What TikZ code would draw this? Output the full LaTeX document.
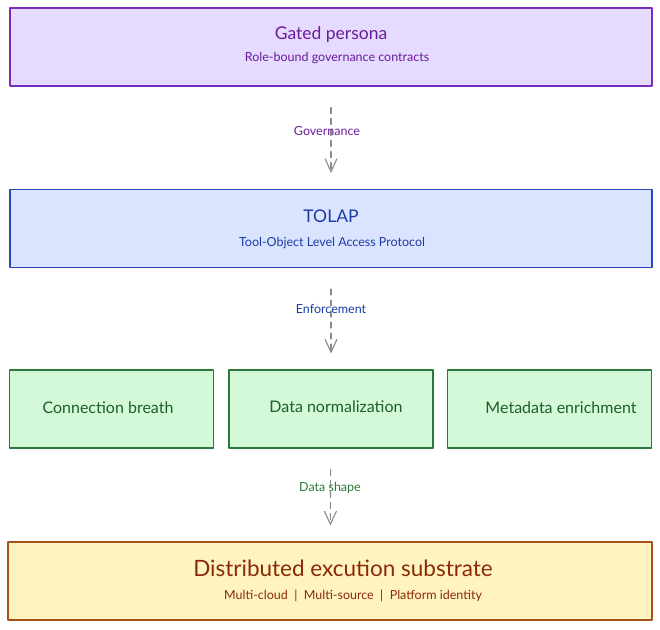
\documentclass[tikz,border=0pt]{standalone}
\usepackage{fontspec}
\setmainfont{Lato}
\usepackage{tikz}
\usetikzlibrary{positioning,arrows.meta}

\begin{document}
\begin{tikzpicture}[
		x=1pt, y=-1pt,
		line cap=round,
		line join=round,
		every path/.style={line width=1.1pt}
		]
		% colours
		\definecolor{gpFill}{HTML}{E5DBFF}
		\definecolor{gpLine}{HTML}{7B2CBF}
		\definecolor{gpText}{HTML}{6A1B9A}
		\definecolor{tlFill}{HTML}{DBE4FF}
		\definecolor{tlLine}{HTML}{2847B8}
		\definecolor{tlText}{HTML}{1C3AA6}
		\definecolor{dsFill}{HTML}{D3F9D8}
		\definecolor{dsLine}{HTML}{2B7A3B}
		\definecolor{dsText}{HTML}{1E5E2A}
		\definecolor{exFill}{HTML}{FFF3BF}
		\definecolor{exLine}{HTML}{A8501A}
		\definecolor{exText}{HTML}{8B2A08}
		\definecolor{flowGray}{HTML}{8A8A8A}

		% styles
		\tikzset{
			layer/.style={rectangle, draw, inner sep=0pt,
				minimum width=642pt, minimum height=78pt},
			part/.style={rectangle, draw=dsLine, fill=dsFill, text=dsText, inner sep=0pt,
				minimum width=204pt, minimum height=78pt},
			partlbl/.style={text=dsText, font=\fontsize{16}{19}\selectfont},
			title/.style={font=\fontsize{17.5}{21}\selectfont},
			sub/.style={font=\fontsize{12.5}{15}\selectfont},
			flow/.style={draw=flowGray, dashed, dash pattern=on 6pt off 5pt, line width=1.1pt,
				-{Straight Barb[length=13pt, width=12pt, line width=1.1pt]},
				shorten <=21pt, shorten >=16pt},
			flowlbl/.style={font=\fontsize{12.5}{15}\selectfont}
		}

		\useasboundingbox (0,0) rectangle (660,629);

		% ===== layers =====
		\node[layer, draw=gpLine, fill=gpFill] (gp) at (331,47) {};
		\node[title, text=gpText] (gpT) at (331,35) {Gated persona};
		\node[sub, text=gpText] (gpS) at (337,58) {Role-bound governance contracts};

		\node[layer, draw=tlLine, fill=tlFill] (tl) at (331,228.5) {};
		\node[title, text=tlText] (tlT) at (331,216) {TOLAP};
		\node[sub, text=tlText] (tlS) at (332,243) {Tool-Object Level Access Protocol};

		% three parts
		\node[part] (cb) at (111.5,409) {};
		\node[part] (dn) at (331,409) {};
		\node[part] (me) at (549.5,409) {};
		\node[partlbl] at (108,408) {Connection breath};
		\node[partlbl] at (336,407) {Data normalization};
		\node[partlbl] at (561,408) {Metadata enrichment};

		\node[layer, draw=exLine, fill=exFill, minimum width=644pt] (ex) at (330,581) {};
		\node[text=exText, font=\fontsize{22.5}{27}\selectfont] (exT) at (343,568) {Distributed excution substrate};
		\node[sub, text=exText] (exS) at (353,596) {Multi-cloud~~|~~Multi-source~~|~~Platform identity};

		% ===== arrows + labels =====
		\draw[flow] (gp) -- (tl);
		\node[flowlbl, text=gpText] at (327,131) {Governance};

		\draw[flow] (tl) -- (dn);
		\node[flowlbl, text=tlText] at (331,309) {Enforcement};

		\draw[flow] (dn) -- (ex);
		\node[flowlbl, text=dsLine] at (330,488) {Data shape};

\end{tikzpicture}
\end{document}
